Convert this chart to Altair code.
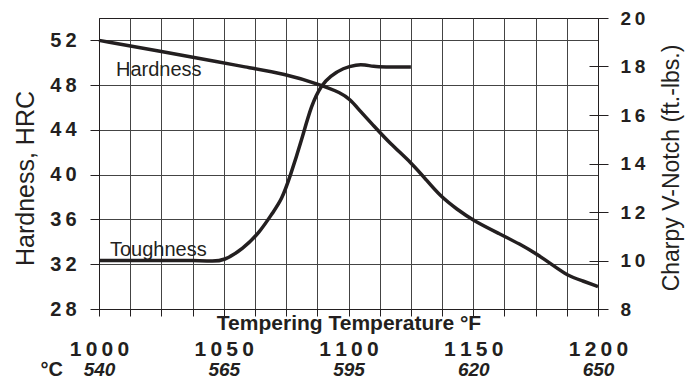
import altair as alt
import pandas as pd

# ---- data ----
hard_F = [1000, 1025, 1050, 1056.5, 1075, 1089.2, 1096.8, 1100.6, 1104.6, 1110, 1116.6, 1125.5,
          1131.3, 1136.7, 1143.5, 1150, 1160.7, 1168.7, 1175.5, 1182, 1187.6, 1194, 1200]
hard_HRC = [52.0, 51.0, 50.0, 49.7, 49.0, 48.0, 47.33, 46.75, 45.7, 44.4, 42.8, 41.0,
            39.5, 38.1, 36.9, 35.9, 34.7, 33.8, 32.9, 31.9, 31.0, 30.5, 30.0]

tough_F = [1000, 1020, 1040, 1045, 1050, 1057.7, 1064.5, 1069.7, 1073.2, 1076.6, 1081.2, 1085.2,
           1089.2, 1092.6, 1097.9, 1103.3, 1106.5, 1110, 1114, 1125]
tough_CVN = [10.0, 10.0, 10.0, 9.97, 9.98, 10.48, 11.17, 11.99, 12.5, 13.46, 14.96, 16.45,
             17.24, 17.6, 17.94, 18.08, 18.07, 18.0, 17.98, 17.98]

label_text = ["Hardness", "Toughness"]
label_F = [1006.8, 1004.4]
label_HRC = [48.8, 32.76]

x_grid = [1000, 1012.5, 1025, 1037.5, 1050, 1062.5, 1075, 1087.5, 1100,
          1112.5, 1125, 1137.5, 1150, 1162.5, 1175, 1187.5, 1200]
f_ticks = [1000, 1050, 1100, 1150, 1200]
c_labels = ["540", "565", "595", "620", "650"]
hrc_ticks = [28, 32, 36, 40, 44, 48, 52]
cvn_ticks = [8, 10, 12, 14, 16, 18, 20]
cvn_inner = [10, 12, 14, 16, 18]

hard_df = pd.DataFrame({"F": hard_F, "HRC": hard_HRC})
tough_df = pd.DataFrame({"F": tough_F, "CVN": tough_CVN})
lab_df = pd.DataFrame({"F": label_F, "HRC": label_HRC, "text": label_text})

INK = "#231f20"
FONT = "Liberation Sans"
THIN = "\u2009"
spaced = "join(split(toString(datum.value), ''), '" + THIN + "')"

x_scale = alt.Scale(domain=[1000, 1200], nice=False, zero=False)
hrc_scale = alt.Scale(domain=[28, 54], nice=False, zero=False)
cvn_scale = alt.Scale(domain=[8, 20], nice=False, zero=False)

hardness = alt.Chart(hard_df).mark_line(color=INK, strokeWidth=3.5, interpolate="basis").encode(
    x=alt.X("F:Q", scale=x_scale, axis=alt.Axis(
        orient="bottom", values=x_grid, grid=True, tickSize=7,
        labelExpr="datum.value % 50 == 0 ? " + spaced + " : ''",
        labelFont=FONT, labelFontSize=21, labelFontWeight="bold", labelPadding=22,
        labelOverlap=False, labelFlush=False, labelBound=False,
        title="Tempering Temperature °F", titleFont=FONT, titleFontSize=21,
        titleFontWeight="bold", titleY=20, titleBaseline="alphabetic")),
    y=alt.Y("HRC:Q", scale=hrc_scale, axis=alt.Axis(
        orient="left", values=hrc_ticks, grid=True, tickSize=9, labelPadding=14,
        labelExpr=spaced, labelFont=FONT, labelFontSize=20, labelFontWeight="bold",
        title="Hardness, HRC", titleFont=FONT, titleFontSize=25, titleFontWeight="normal",
        titleAngle=270, titleX=-74, titleY=160, titleBaseline="middle", titleAlign="center")),
)

toughness = alt.Chart(tough_df).mark_line(color=INK, strokeWidth=3.5, interpolate="basis").encode(
    x=alt.X("F:Q", scale=x_scale, axis=None),
    y=alt.Y("CVN:Q", scale=cvn_scale, axis=alt.Axis(
        orient="right", values=cvn_ticks, grid=False, tickSize=10, labelPadding=12,
        labelExpr=spaced, labelFont=FONT, labelFontSize=19, labelFontWeight="bold",
        title="Charpy V-Notch (ft.-lbs.)", titleFont=FONT, titleFontSize=23,
        titleFontWeight="normal", titleAngle=270, titleX=73, titleY=149.5,
        titleBaseline="middle", titleAlign="center")),
)

labels = alt.Chart(lab_df).mark_text(font=FONT, fontSize=20, color=INK, align="left",
                                     baseline="alphabetic").encode(
    x=alt.X("F:Q", scale=x_scale, axis=None),
    y=alt.Y("HRC:Q", scale=hrc_scale, axis=None),
    text="text:N",
)

c_expr = "[" + ",".join("'" + c + "'" for c in c_labels) + "][round((datum.value - 1000) / 50)]"
celsius = alt.Chart(tough_df).mark_point(opacity=0).encode(
    x=alt.X("F:Q", scale=x_scale, axis=alt.Axis(
        orient="bottom", values=f_ticks, grid=False, ticks=False, tickSize=0, domain=False,
        labelExpr=c_expr, labelFont=FONT, labelFontSize=19, labelFontWeight="bold",
        labelFontStyle="italic", labelPadding=66, labelBaseline="alphabetic",
        labelOverlap=False, labelFlush=False, labelBound=False,
        title="°C", titleFont=FONT, titleFontSize=20, titleFontWeight="bold",
        titleX=-59, titleY=66, titleAlign="left", titleBaseline="alphabetic")),
    y=alt.Y("CVN:Q", scale=cvn_scale, axis=alt.Axis(
        orient="right", values=cvn_inner, grid=False, labels=False, domain=False,
        tickSize=9, offset=-9, title=None)),
)

chart = alt.layer(hardness, toughness, labels, celsius).resolve_scale(
    y="independent"
).resolve_axis(x="independent", y="independent").properties(
    width=499, height=291,
    autosize=alt.AutoSizeParams(type="none"),
    padding={"left": 91, "top": 10, "right": 88, "bottom": 70},
).configure_view(
    stroke=INK, strokeWidth=1
).configure_axis(
    domainColor=INK, tickColor=INK, labelColor=INK, titleColor=INK,
    gridColor="#444444", gridOpacity=1, gridWidth=1, domainWidth=1, tickWidth=1,
)

chart.save("out.html", embed_options={"renderer": "svg", "actions": False})
